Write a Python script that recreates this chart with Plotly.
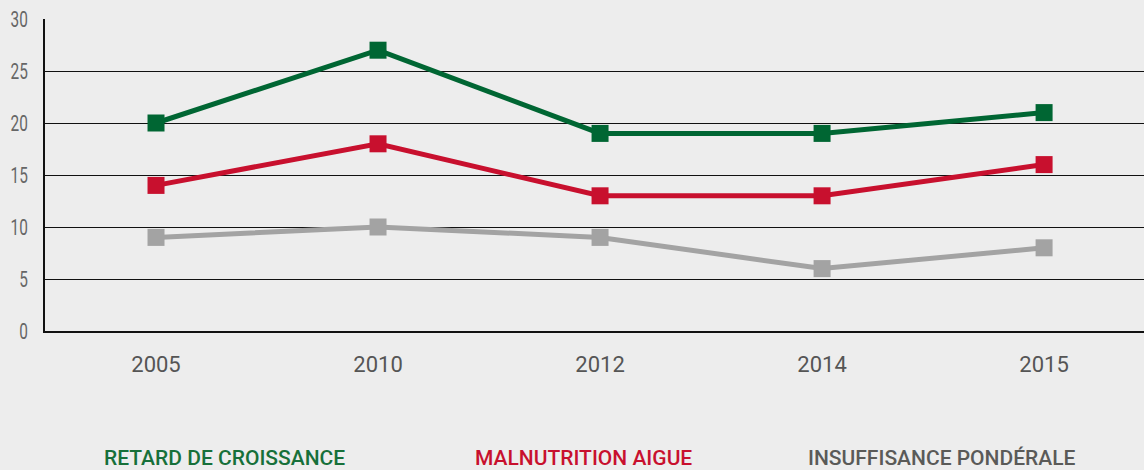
import plotly.graph_objects as go

years = ["2005", "2010", "2012", "2014", "2015"]
retard = [20, 27, 19, 19, 21]
malnutrition = [14, 18, 13, 13, 16]
insuffisance = [9, 10, 9, 6, 8]
names = ["RETARD DE CROISSANCE", "MALNUTRITION AIGUE", "INSUFFISANCE PONDÉRALE"]
line_colors = ["#006633", "#c8102e", "#a3a3a3"]
text_colors = ["#17703a", "#c8102e", "#5a5a58"]
y_ticks = [0, 5, 10, 15, 20, 25, 30]

fig = go.Figure()
for name, vals, col in zip(names, [retard, malnutrition, insuffisance], line_colors):
    fig.add_trace(go.Scatter(
        x=years, y=vals, name=name, mode="lines+markers",
        line=dict(color=col, width=5),
        marker=dict(symbol="square", size=17, color=col),
    ))

legend_x = [224, 583, 942]
for name, col, lx in zip(names, text_colors, legend_x):
    fig.add_annotation(
        text=name, xref="paper", yref="paper",
        x=(lx - 45) / 1099, y=-0.406, yanchor="middle", xanchor="center",
        showarrow=False,
        font=dict(family="Roboto", size=21, color=col, weight=500),
    )

fig.update_layout(
    width=1144, height=470,
    margin=dict(l=45, r=0, t=19, b=139),
    paper_bgcolor="#ededed", plot_bgcolor="#ededed",
    showlegend=False,
    xaxis=dict(
        type="category", range=[-0.5, 4.45],
        showgrid=False, showline=True, linecolor="#111111", linewidth=1.5,
        ticks="", tickfont=dict(family="Roboto", size=22, color="#555555"),
        ticklabelstandoff=13,
    ),
    yaxis=dict(
        range=[0, 30], tickvals=y_ticks,
        showgrid=True, gridcolor="#111111", gridwidth=1,
        showline=True, linecolor="#111111", linewidth=1.5,
        zeroline=False, ticks="",
        tickfont=dict(family="Roboto", size=22, color="#666666"),
        ticklabelstandoff=11,
    ),
)

post = """
var gd = document.getElementById('{plot_id}');
function squeeze(){
  gd.querySelectorAll('.ytick text').forEach(function(t){
    if (t.getAttribute('data-sq')) return;
    var x = parseFloat(t.getAttribute('x')) || 0;
    var tr = t.getAttribute('transform') || '';
    t.setAttribute('transform', tr + ' translate(' + x + ',0) scale(0.7,1) translate(' + (-x) + ',0)');
    t.setAttribute('data-sq', '1');
  });
}
squeeze();
"""

fig.write_html("out.html", config={"displayModeBar": False}, post_script=post)

with open("out.html", "r", encoding="utf-8") as f:
    html = f.read()
css = "<style>body{margin:0;padding:0;background:#ededed}</style>"
html = html.replace("</head>", css + "</head>", 1)
with open("out.html", "w", encoding="utf-8") as f:
    f.write(html)
